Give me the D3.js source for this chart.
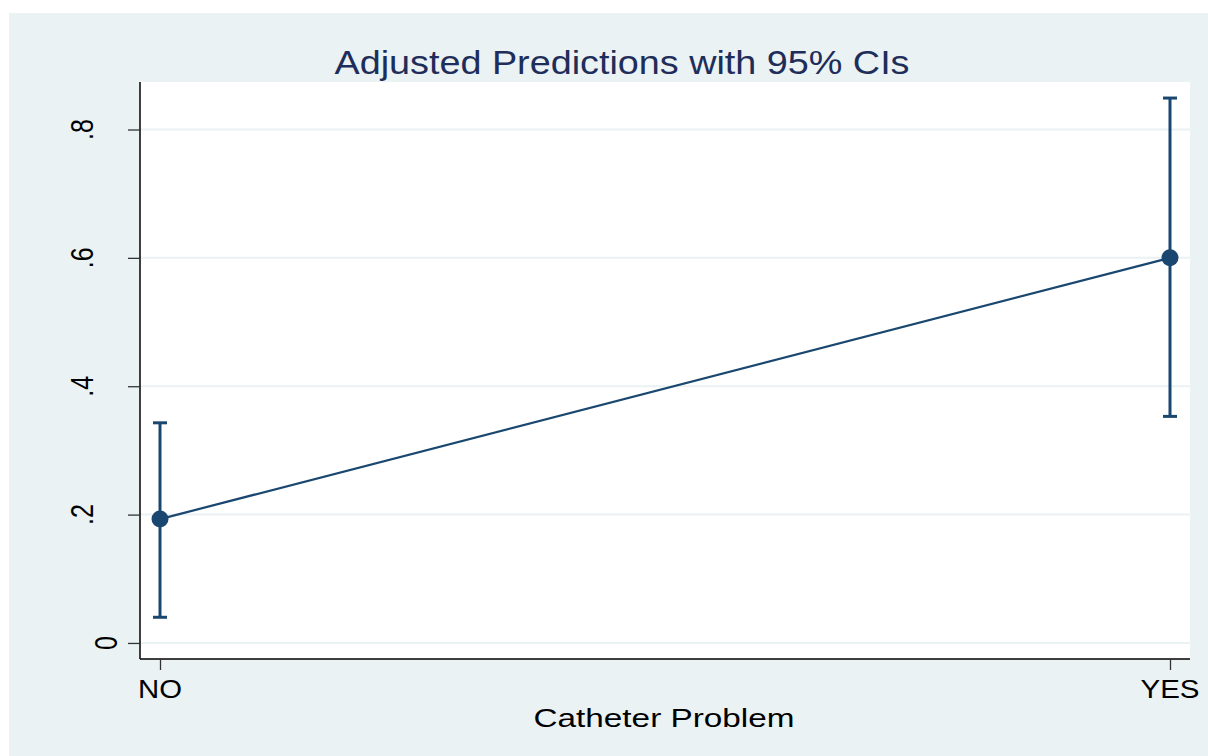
<!DOCTYPE html>
<html><head><meta charset="utf-8">
<script src="https://cdn.jsdelivr.net/npm/d3@7"></script>
<style>html,body{margin:0;padding:0;background:#fff;}svg{display:block;}</style>
</head><body>
<script>
const categories = ["NO", "YES"];
const estimates = [0.193, 0.600];
const ciLower = [0.040, 0.353];
const ciUpper = [0.343, 0.849];
const yTicks = [0, 0.2, 0.4, 0.6, 0.8];
const yTickLabels = ["0", ".2", ".4", ".6", ".8"];
const titleText = "Adjusted Predictions with 95% CIs";
const xTitleText = "Catheter Problem";

const W = 1208, H = 756;
const plot = {left: 140, right: 1190, top: 82, bottom: 659};
const navy = "#1a476f";
const bg = "#eaf2f3";
const sx = 1.25;

const svg = d3.select("body").append("svg").attr("width", W).attr("height", H);
svg.append("rect").attr("x", 9).attr("y", 13).attr("width", W - 9).attr("height", H - 13).attr("fill", bg);
svg.append("rect").attr("x", plot.left).attr("y", plot.top)
  .attr("width", plot.right - plot.left).attr("height", plot.bottom - plot.top).attr("fill", "#fff");

const x = d3.scalePoint().domain(categories).range([160, 1170]).padding(0);
const y = d3.scaleLinear().domain([-0.025, 0.874]).range([plot.bottom, plot.top]);

// gridlines
svg.append("g").selectAll("line").data(yTicks).join("line")
  .attr("x1", plot.left).attr("x2", plot.right)
  .attr("y1", d => y(d)).attr("y2", d => y(d))
  .attr("stroke", bg).attr("stroke-width", 2);

// y axis
const yAxis = d3.axisLeft(y).tickValues(yTicks).tickSize(12).tickFormat("");
const gy = svg.append("g").attr("transform", `translate(${plot.left},0)`).call(yAxis);
gy.select(".domain").attr("d", `M0,${plot.top}V${plot.bottom}`).attr("stroke", "#000").attr("stroke-width", 1.5);
gy.selectAll(".tick line").attr("stroke", "#333").attr("stroke-width", 1.3);

svg.append("g").selectAll("text").data(yTicks).join("text")
  .attr("transform", (d, i) => `translate(${yTickLabels[i].startsWith(".") ? 93 : 117},${y(d)}) scale(${sx},1) rotate(-90)`)
  .attr("text-anchor", "middle")
  .attr("font-family", "'Liberation Sans', Arial, sans-serif")
  .attr("font-size", 25).attr("fill", "#000")
  .text((d, i) => yTickLabels[i]);

// x axis
const xAxis = d3.axisBottom(x).tickSize(11).tickFormat("");
const gx = svg.append("g").attr("transform", `translate(0,${plot.bottom})`).call(xAxis);
gx.select(".domain").attr("d", `M${plot.left},0H${plot.right}`).attr("stroke", "#000").attr("stroke-width", 1.5);
gx.selectAll(".tick line").attr("stroke", "#333").attr("stroke-width", 1.3);

const xLabelWidths = {NO: 44, YES: 59};
svg.append("g").selectAll("text").data(categories).join("text")
  .attr("x", d => x(d)).attr("y", 698)
  .attr("text-anchor", "middle")
  .attr("font-family", "'Liberation Sans', Arial, sans-serif")
  .attr("font-size", 25).attr("fill", "#000")
  .attr("textLength", d => xLabelWidths[d]).attr("lengthAdjust", "spacingAndGlyphs")
  .text(d => d);

// titles
svg.append("text").attr("x", 622).attr("y", 74).attr("text-anchor", "middle")
  .attr("font-family", "'Liberation Sans', Arial, sans-serif")
  .attr("font-size", 33).attr("fill", "#1e2d5a")
  .attr("textLength", 575).attr("lengthAdjust", "spacingAndGlyphs")
  .text(titleText);
svg.append("text").attr("x", 664).attr("y", 727).attr("text-anchor", "middle")
  .attr("font-family", "'Liberation Sans', Arial, sans-serif")
  .attr("font-size", 26.5).attr("fill", "#000")
  .attr("textLength", 261).attr("lengthAdjust", "spacingAndGlyphs")
  .text(xTitleText);

// error bars
const eb = svg.append("g");
categories.forEach((c, i) => {
  eb.append("line").attr("x1", x(c)).attr("x2", x(c)).attr("y1", y(ciLower[i])).attr("y2", y(ciUpper[i]))
    .attr("stroke", navy).attr("stroke-width", 3);
  [ciLower[i], ciUpper[i]].forEach(v => {
    eb.append("line").attr("x1", x(c) - 7).attr("x2", x(c) + 7).attr("y1", y(v)).attr("y2", y(v))
      .attr("stroke", navy).attr("stroke-width", 3);
  });
});

// connecting line
const line = d3.line().x((d, i) => x(categories[i])).y(d => y(d));
svg.append("path").datum(estimates).attr("d", line).attr("fill", "none")
  .attr("stroke", navy).attr("stroke-width", 2.2);

// markers
svg.append("g").selectAll("circle").data(estimates).join("circle")
  .attr("cx", (d, i) => x(categories[i])).attr("cy", d => y(d)).attr("r", 8.5)
  .attr("fill", navy);
</script>
</body></html>
